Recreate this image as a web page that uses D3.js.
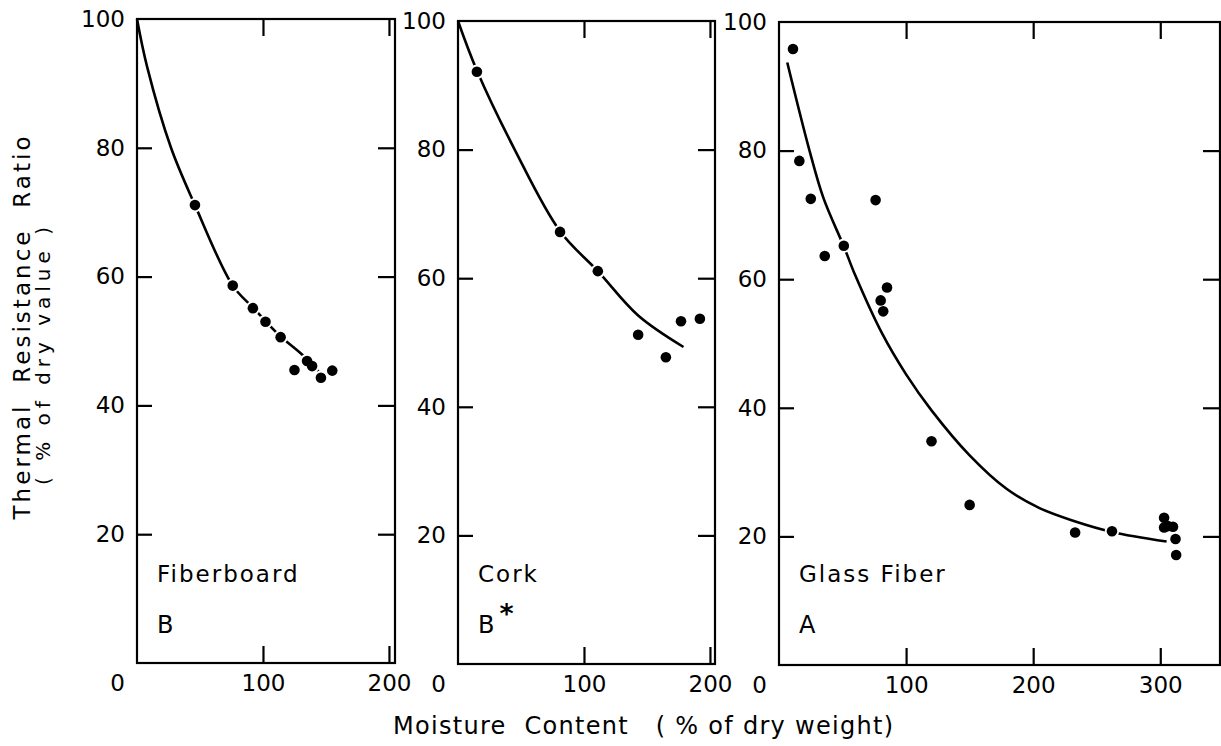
<!DOCTYPE html>
<html><head><meta charset="utf-8">
<script src="https://cdn.jsdelivr.net/npm/d3@7"></script>
<style>
html,body{margin:0;padding:0;background:#fff;}
svg{display:block;font-family:"DejaVu Sans",sans-serif;}
</style></head><body>
<svg id="chart" width="1221" height="746"></svg>
<script>
// ---- data ----
const materials = ["Fiberboard", "Cork", "Glass Fiber"];
const grades = ["B", "B", "A"];
const gradeMarks = ["", "*", ""];
const yTickValues = [20, 40, 60, 80, 100];
const xTicksShort = [0, 100, 200];
const xTicksLong = [0, 100, 200, 300];

const fiberboardMoisture = [46, 76, 92, 102, 114, 125, 135, 139, 146, 155];
const fiberboardRatio    = [71.1, 58.6, 55.1, 53.0, 50.6, 45.5, 46.9, 46.1, 44.3, 45.4];
const fiberboardCurveX   = [0, 8, 27, 46, 76, 92, 102, 114, 131, 146];
const fiberboardCurveY   = [100, 92.6, 80, 71.1, 58.6, 55.2, 53.1, 50.7, 47.9, 44.8];

const corkMoisture = [15, 81, 111, 143, 165, 177, 192];
const corkRatio    = [92.1, 67.2, 61.1, 51.2, 47.7, 53.3, 53.7];
const corkCurveX   = [0, 15, 45, 81, 111, 143, 179];
const corkCurveY   = [100, 92.3, 80, 67.3, 61.1, 54.2, 49.3];

const glassMoisture = [11, 16, 25, 36, 51, 76, 85, 80, 82, 120, 150, 233, 262, 303, 303, 306, 310, 312, 312.5];
const glassRatio    = [95.8, 78.4, 72.5, 63.6, 65.2, 72.3, 58.7, 56.7, 55.0, 34.8, 24.9, 20.6, 20.8, 22.9, 21.4, 21.6, 21.5, 19.6, 17.1];
const glassCurveX   = [6.5, 24, 35, 51, 60, 81, 100, 120, 150, 179, 205, 232, 262, 305];
const glassCurveY   = [93.7, 80, 72.6, 65.1, 60.6, 51.6, 45.2, 39.6, 32.6, 27.4, 24.4, 22.4, 20.7, 19.2];

// ---- layout ----
const panelBoxes = [
  {left: 137, right: 395, top: 19, bottom: 663, xmax: 204.8, xTicks: xTicksShort},
  {left: 458, right: 715, top: 21, bottom: 664, xmax: 204,   xTicks: xTicksShort},
  {left: 779, right: 1220, top: 22, bottom: 665, xmax: 347,  xTicks: xTicksLong}
];
const panelData = [
  {mx: fiberboardMoisture, my: fiberboardRatio, cx: fiberboardCurveX, cy: fiberboardCurveY},
  {mx: corkMoisture, my: corkRatio, cx: corkCurveX, cy: corkCurveY},
  {mx: glassMoisture, my: glassRatio, cx: glassCurveX, cy: glassCurveY}
];

const svg = d3.select("#chart");
const FS = 23;

panelBoxes.forEach((b, i) => {
  const d = panelData[i];
  const x = d3.scaleLinear().domain([0, b.xmax]).range([b.left, b.right]);
  const y = d3.scaleLinear().domain([0, 100]).range([b.bottom, b.top]);
  const g = svg.append("g");

  // frame
  g.append("rect").attr("x", b.left).attr("y", b.top)
    .attr("width", b.right - b.left).attr("height", b.bottom - b.top)
    .attr("fill", "none").attr("stroke", "#000").attr("stroke-width", 2.2);

  const inner = b.xTicks.filter(v => v > 0);
  const tickStyle = sel => { sel.select(".domain").remove(); sel.selectAll("line").attr("stroke", "#000").attr("stroke-width", 2.2); };

  // inward tick marks
  g.append("g").attr("transform", `translate(${b.left},0)`)
    .call(d3.axisRight(y).tickValues([20, 40, 60, 80]).tickSize(15).tickFormat("")).call(tickStyle);
  g.append("g").attr("transform", `translate(${b.right},0)`)
    .call(d3.axisLeft(y).tickValues([20, 40, 60, 80]).tickSize(17).tickFormat("")).call(tickStyle);
  g.append("g").attr("transform", `translate(0,${b.top})`)
    .call(d3.axisBottom(x).tickValues(inner).tickSize(17).tickFormat("")).call(tickStyle);
  g.append("g").attr("transform", `translate(0,${b.bottom})`)
    .call(d3.axisTop(x).tickValues(inner).tickSize(17).tickFormat("")).call(tickStyle);

  // tick labels
  const yl = g.append("g").attr("transform", `translate(${b.left},0)`)
    .call(d3.axisLeft(y).tickValues(yTickValues).tickSize(0).tickPadding(12));
  yl.select(".domain").remove();
  yl.selectAll("text").attr("font-size", FS).attr("font-family", "DejaVu Sans").attr("fill", "#000");

  const xl = g.append("g").attr("transform", `translate(0,${b.bottom})`)
    .call(d3.axisBottom(x).tickValues(b.xTicks).tickSize(0).tickPadding(12));
  xl.select(".domain").remove();
  xl.selectAll("text").attr("font-size", FS).attr("font-family", "DejaVu Sans").attr("fill", "#000")
    .attr("dx", v => v === 0 ? -20 : 0);

  // fitted curve
  const pts = d.cx.map((v, k) => [v, d.cy[k]]);
  g.append("path").datum(pts)
    .attr("d", d3.line().x(p => x(p[0])).y(p => y(p[1])).curve(d3.curveCatmullRom.alpha(0.5)))
    .attr("fill", "none").attr("stroke", "#000").attr("stroke-width", 2.6);

  // points: white halo layer, then black dots
  const dots = d.mx.map((v, k) => [v, d.my[k]]);
  g.selectAll("circle.halo").data(dots).join("circle")
    .attr("class", "halo")
    .attr("cx", p => x(p[0])).attr("cy", p => y(p[1])).attr("r", 7.2)
    .attr("fill", "#fff");
  g.selectAll("circle.pt").data(dots).join("circle")
    .attr("class", "pt")
    .attr("cx", p => x(p[0])).attr("cy", p => y(p[1])).attr("r", 5.3)
    .attr("fill", "#000");

  // material labels
  g.append("text").attr("x", b.left + 20).attr("y", 582)
    .attr("font-size", FS).attr("letter-spacing", 2).text(materials[i]);
  const gt = g.append("text").attr("x", b.left + 20).attr("y", 633).attr("font-size", FS + 1);
  gt.append("tspan").text(grades[i]);
  if (gradeMarks[i]) gt.append("tspan").attr("dx", 5).attr("dy", -10).attr("font-size", 27).attr("font-weight", "bold").text(gradeMarks[i]);
});

// axis titles
svg.append("text").attr("transform", "translate(30,328) rotate(-90)")
  .attr("text-anchor", "middle").attr("font-size", 23)
  .attr("textLength", 383).attr("lengthAdjust", "spacing")
  .style("white-space", "pre").text("Thermal  Resistance  Ratio");
svg.append("text").attr("transform", "translate(50,356) rotate(-90)")
  .attr("text-anchor", "middle").attr("font-size", 20)
  .attr("textLength", 258).attr("lengthAdjust", "spacing")
  .style("white-space", "pre").text("( % of dry value )");
svg.append("text").attr("x", 393).attr("y", 734)
  .attr("font-size", 24)
  .attr("textLength", 500).attr("lengthAdjust", "spacing")
  .style("white-space", "pre").text("Moisture  Content   ( % of dry weight)");
</script>
</body></html>
